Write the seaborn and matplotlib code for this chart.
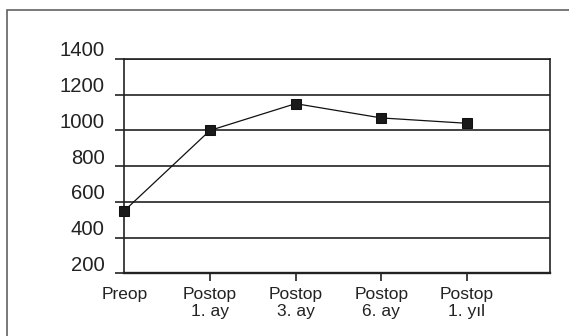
import numpy as np
import pandas as pd
import matplotlib
matplotlib.use("Agg")
import matplotlib.pyplot as plt
import seaborn as sns
from matplotlib.transforms import ScaledTranslation
from matplotlib.patches import Rectangle

categories = ["Preop", "Postop\n1. ay", "Postop\n3. ay", "Postop\n6. ay", "Postop\n1. yıl"]
values = [550, 1000, 1150, 1070, 1040]
y_ticks = [200, 400, 600, 800, 1000, 1200, 1400]

sns.set_theme(style="white")
plt.rcParams['font.family'] = ['Liberation Sans', 'DejaVu Sans']

W, H = 569, 336
fig = plt.figure(figsize=(W / 100, H / 100), dpi=100)
left, right, top, bottom = 124.3, 550.0, 59.0, 273.3
ax = fig.add_axes([left / W, 1 - bottom / H, (right - left) / W, (bottom - top) / H])

df = pd.DataFrame({"pos": np.arange(len(categories)), "value": values})
sns.lineplot(data=df, x="pos", y="value", ax=ax, color="#111111", linewidth=0.9,
             marker="s", markersize=6.8, markeredgecolor="#111111",
             markerfacecolor="#1a1a1a", clip_on=False, zorder=5)

ax.set_xlim(0, 4.97)
ax.set_ylim(200, 1400)
ax.set_yticks(y_ticks)
ax.set_yticklabels([str(v) for v in y_ticks])
ax.set_xticks(df["pos"])
ax.set_xticklabels(categories)
ax.set_xlabel("")
ax.set_ylabel("")

ax.grid(axis="y", color="#222222", linewidth=1.2)
ax.grid(axis="x", visible=False)
ax.set_axisbelow(True)

for name, sp in ax.spines.items():
    sp.set_visible(True)
    sp.set_color("#222222")
    sp.set_linewidth(1.2)
ax.spines["bottom"].set_linewidth(1.7)

ax.tick_params(axis="y", left=True, length=6.7, width=1.2, color="#222222",
               pad=7.5, labelsize=14.6, labelcolor="#222222")
ax.tick_params(axis="x", bottom=True, length=6, width=1.2, color="#222222",
               pad=4, labelsize=12.5, labelcolor="#222222")

# y labels sit above their gridlines in the original
offset = ScaledTranslation(0, 10 / 100, fig.dpi_scale_trans)
for lab in ax.get_yticklabels():
    lab.set_transform(lab.get_transform() + offset)
for lab in ax.get_xticklabels():
    lab.set_linespacing(1.12)
ax.get_xaxis().get_major_ticks()[0].tick1line.set_visible(False)

# outer frame (only top-left visible)
fig.patches.append(Rectangle((7 / W, -0.1), 1.2, (H - 9.5) / H + 0.1,
                             transform=fig.transFigure, fill=False,
                             edgecolor="#555555", linewidth=1.1))

fig.savefig("out.png", dpi=100)
